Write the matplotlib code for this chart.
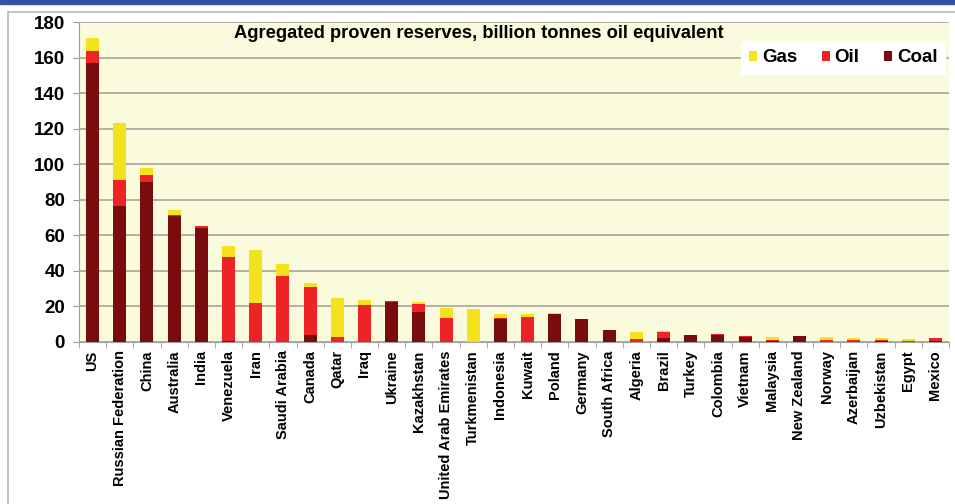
import matplotlib
matplotlib.use("Agg")
import matplotlib.pyplot as plt
from matplotlib.patches import Patch
from matplotlib.lines import Line2D
import numpy as np

countries = ["US", "Russian Federation", "China", "Australia", "India", "Venezuela",
             "Iran", "Saudi Arabia", "Canada", "Qatar", "Iraq", "Ukraine", "Kazakhstan",
             "United Arab Emirates", "Turkmenistan", "Indonesia", "Kuwait", "Poland",
             "Germany", "South Africa", "Algeria", "Brazil", "Turkey", "Colombia",
             "Vietnam", "Malaysia", "New Zealand", "Norway", "Azerbaijan", "Uzbekistan",
             "Egypt", "Mexico"]

# billion tonnes oil equivalent
coal = [157.0, 76.5, 90.0, 71.0, 64.0, 0.3, 0.0, 0.0, 4.0, 0.0, 0.0, 22.5, 17.0,
        0.0, 0.0, 13.0, 0.0, 16.0, 13.0, 6.7, 0.0, 2.5, 4.0, 4.0,
        3.0, 0.3, 3.2, 0.0, 0.0, 0.8, 0.0, 0.6]
oil = [6.5, 14.5, 4.0, 0.5, 1.0, 47.7, 22.0, 37.0, 27.0, 3.0, 20.8, 0.3, 4.5,
       13.3, 0.1, 0.7, 14.3, 0.0, 0.0, 0.0, 1.8, 3.3, 0.0, 0.3,
       0.2, 0.7, 0.0, 0.9, 1.0, 0.1, 0.5, 1.4]
gas = [7.5, 32.0, 4.0, 3.0, 0.5, 6.0, 30.0, 7.0, 2.0, 21.5, 2.8, 0.5, 1.0,
       5.7, 18.3, 2.0, 1.4, 0.1, 0.2, 0.0, 4.0, 0.2, 0.2, 0.2,
       0.1, 2.0, 0.2, 1.7, 1.0, 1.1, 1.3, 0.2]

title = "Agregated proven reserves, billion tonnes oil equivalent"
yticks = list(range(0, 181, 20))

COAL_C = "#7a0c0e"
OIL_C = "#ee2326"
GAS_C = "#f3e21c"
BG = "#fafadc"
GRID = "#a39a93"
FONT = "Liberation Sans"

fig = plt.figure(figsize=(9.55, 5.04), dpi=100)
fig.patch.set_facecolor("white")

ax = fig.add_axes([79 / 955, 162 / 504, 870 / 955, 320 / 504])
ax.set_facecolor(BG)

x = np.arange(len(countries))
coal_a = np.array(coal)
oil_a = np.array(oil)
gas_a = np.array(gas)
w = 0.48
ax.bar(x, coal_a, w, color=COAL_C, zorder=3)
ax.bar(x, oil_a, w, bottom=coal_a, color=OIL_C, zorder=3)
ax.bar(x, gas_a, w, bottom=coal_a + oil_a, color=GAS_C, zorder=3)

ax.set_xlim(-0.5, len(countries) - 0.5)
ax.set_ylim(0, 180)
ax.set_yticks(yticks)
ax.set_yticklabels([str(v) for v in yticks], fontsize=13.5, fontweight="bold",
                   family=FONT)
ax.yaxis.grid(True, color=GRID, linewidth=1.1, zorder=1)
ax.tick_params(axis="y", length=4, color="#9a9a9a", pad=6)

ax.set_xticks(x)
ax.set_xticklabels(countries, rotation=90, fontsize=10.5, fontweight="bold",
                   family=FONT)
ax.tick_params(axis="x", length=0, pad=6)
ax.set_xticks(np.arange(-0.5, len(countries), 1), minor=True)
ax.tick_params(axis="x", which="minor", length=4, color="#9a9a9a")

for side in ("top", "right"):
    ax.spines[side].set_visible(False)
ax.spines["left"].set_color("#a0a0a0")
ax.spines["bottom"].set_color("#a0a0a0")

ax.text(0.4595, 0.992, title, transform=ax.transAxes, ha="center", va="top",
        fontsize=13.2, fontweight="bold", family=FONT, zorder=5)

handles = [Patch(facecolor=GAS_C, edgecolor="none", label="Gas"),
           Patch(facecolor=OIL_C, edgecolor="none", label="Oil"),
           Patch(facecolor=COAL_C, edgecolor="none", label="Coal")]
leg = ax.legend(handles=handles, loc="upper right", ncol=3,
                bbox_to_anchor=(1.0, 0.95), frameon=True, fancybox=False,
                framealpha=1.0, edgecolor="white", facecolor="white",
                handlelength=0.45, handleheight=0.45, handletextpad=0.25,
                columnspacing=1.3, borderpad=0.4, borderaxespad=0.2,
                prop={"family": FONT, "weight": "bold", "size": 13.5})
leg.set_zorder(6)

# page frame: blue band on top, grey rules
fig.add_artist(plt.Rectangle((0, 1 - 4 / 504), 1, 4 / 504, transform=fig.transFigure,
                             color="#3553a6", zorder=0))
fig.add_artist(Line2D([8 / 955, 1], [1 - 12 / 504, 1 - 12 / 504],
                      transform=fig.transFigure, color="#b8b8c0", linewidth=1.2))
fig.add_artist(Line2D([8 / 955, 8 / 955], [0, 1 - 12 / 504],
                      transform=fig.transFigure, color="#b8b8c0", linewidth=1.2))

fig.savefig("out.png", dpi=100, facecolor=fig.get_facecolor())
